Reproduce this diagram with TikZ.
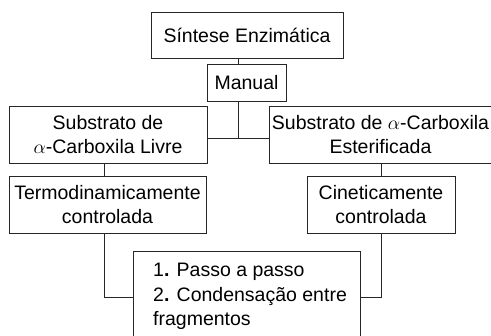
\RequirePackage{fix-cm}
\documentclass[tikz,border=0pt]{standalone}
\usepackage{fontspec}
\setmainfont{Liberation Sans}
\begin{document}
\begin{tikzpicture}[x=1pt,y=-1pt,
  box/.style={draw=black!85, line width=0.95pt, inner sep=0pt, align=center,
    font=\fontsize{19.5}{24}\selectfont},
  link/.style={draw=black!85, line width=0.95pt}]
\useasboundingbox (0,0) rectangle (491,336);
\clip (0,0) rectangle (491,336);
\node[box, minimum width=192pt, minimum height=45.5pt] (top) at (247,35.5) {Síntese Enzimática};
\node[box, minimum width=79pt, minimum height=37pt] (manual) at (246.5,82.5) {Manual};
\node[box, minimum width=198pt, minimum height=56.5pt] (left) at (108,135) {Substrato de\\$\alpha$-Carboxila Livre};
\node[box, minimum width=223pt, minimum height=56.5pt] (right) at (380.5,135) {Substrato de $\alpha$-Carboxila\\Esterificada};
\node[box, minimum width=197pt, minimum height=56.5pt] (termo) at (107.5,205) {Termodinamicamente\\controlada};
\node[box, minimum width=148pt, minimum height=56.5pt] (cinet) at (381,205) {Cineticamente\\controlada};
\node[box, minimum width=227pt, minimum height=100pt] (bottom) at (246.5,301) {};
\node[font=\fontsize{19.5}{24.5}\selectfont, align=left, inner sep=0pt, anchor=north west] (btext) at (153,263)
  {1\textbf{.} Passo a passo\\2\textbf{.} Condensação entre\\fragmentos};
\coordinate (j) at (238,138);
\coordinate (lb) at (104,297);
\coordinate (rb) at (381,297);
\draw[link] (top.south -| j) -- (manual.north -| j);
\draw[link] (manual.south -| j) -- (j);
\draw[link] (left.east |- j) -- (right.west |- j);
\draw[link] (left.south -| lb) -- (termo.north -| lb);
\draw[link] (termo.south -| lb) -- (lb) -- (bottom.west |- lb);
\draw[link] (right.south -| rb) -- (cinet.north -| rb);
\draw[link] (cinet.south -| rb) -- (rb) -- (bottom.east |- rb);
\end{tikzpicture}
\end{document}
